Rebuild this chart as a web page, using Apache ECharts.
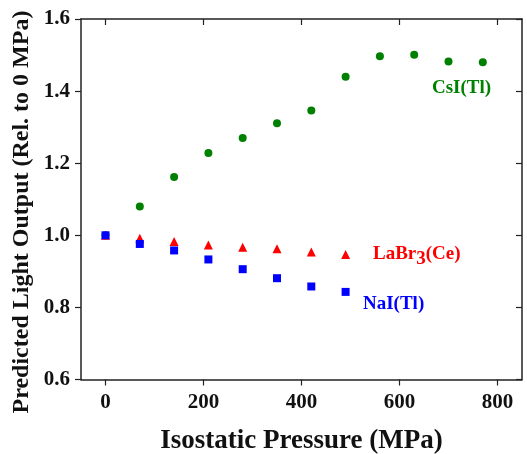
<!DOCTYPE html>
<html>
<head>
<meta charset="utf-8">
<script src="https://cdn.jsdelivr.net/npm/echarts@6/dist/echarts.min.js"></script>
<style>
html,body{margin:0;padding:0;background:#fff;}
#chart{width:527px;height:454px;}
</style>
</head>
<body>
<div id="chart"></div>
<script>
// Isostatic pressure (MPa)
const pressure = [0, 70, 140, 210, 280, 350, 420, 490, 560, 630, 700, 770];
// Predicted light output relative to 0 MPa
const csiTl = [1.0, 1.080, 1.162, 1.228, 1.270, 1.311, 1.346, 1.440, 1.497, 1.501, 1.482, 1.480];
const labr3Ce = [1.0, 0.992, 0.983, 0.973, 0.967, 0.963, 0.954, 0.947];
const naiTl = [1.0, 0.976, 0.958, 0.933, 0.906, 0.881, 0.858, 0.843];
const xTicks = [0, 200, 400, 600, 800];

const pairs = (ys) => ys.map((v, i) => [pressure[i], v]);
const font = '"Liberation Serif", "Times New Roman", serif';
const axisColor = '#222';

const chart = echarts.init(document.getElementById('chart'));
chart.setOption({
  animation: false,
  backgroundColor: '#fff',
  grid: { left: 81, right: 5, top: 19, bottom: 74.5, outerBoundsMode: 'none', containLabel: false },
  xAxis: [{
    type: 'value', min: -50, max: 850, interval: 50,
    axisLine: { onZero: false, lineStyle: { color: axisColor, width: 1.5 } },
    axisTick: { length: 6, lineStyle: { color: axisColor, width: 1.2 },
      customValues: xTicks },
    axisLabel: { margin: 13, fontFamily: font, fontWeight: 'bold', fontSize: 21, color: '#111',
      customValues: xTicks },
    splitLine: { show: false }
  }, {
    type: 'value', position: 'top', min: -50, max: 850,
    axisLine: { onZero: false, lineStyle: { color: axisColor, width: 1.5 } },
    axisTick: { inside: true, length: 6, lineStyle: { color: axisColor, width: 1.2 },
      customValues: xTicks },
    axisLabel: { show: false },
    splitLine: { show: false }
  }],
  yAxis: [{
    type: 'value', min: 0.6, max: 1.6, interval: 0.2,
    axisLine: { onZero: false, lineStyle: { color: axisColor, width: 1.5 } },
    axisTick: { length: 6, lineStyle: { color: axisColor, width: 1.2 } },
    axisLabel: { margin: 11, fontFamily: font, fontWeight: 'bold', fontSize: 21, color: '#111',
      formatter: (v) => v.toFixed(1) },
    splitLine: { show: false }
  }, {
    type: 'value', position: 'right', min: 0.6, max: 1.6, interval: 0.2,
    axisLine: { onZero: false, lineStyle: { color: axisColor, width: 1.5 } },
    axisTick: { inside: true, length: 6, lineStyle: { color: axisColor, width: 1.2 } },
    axisLabel: { show: false },
    splitLine: { show: false }
  }],
  series: [{
    name: 'CsI(Tl)', type: 'scatter', symbol: 'circle', symbolSize: 8,
    itemStyle: { color: '#008000', opacity: 1 }, data: pairs(csiTl), z: 2
  }, {
    name: 'LaBr3(Ce)', type: 'scatter', symbol: 'triangle', symbolSize: 9,
    itemStyle: { color: '#ff0000', opacity: 1 }, data: pairs(labr3Ce), z: 3
  }, {
    name: 'NaI(Tl)', type: 'scatter', symbol: 'rect', symbolSize: 8,
    itemStyle: { color: '#0000ff', opacity: 1 }, data: pairs(naiTl), z: 4
  }],
  graphic: [{
    type: 'text', x: 301.5, y: 441,
    style: { text: 'Isostatic Pressure (MPa)', font: 'bold 27px ' + font, fill: '#111',
      align: 'center', verticalAlign: 'middle' }
  }, {
    type: 'text', x: 22, y: 212, rotation: Math.PI / 2,
    style: { text: 'Predicted Light Output (Rel. to 0 MPa)', font: 'bold 24px ' + font, fill: '#111',
      align: 'center', verticalAlign: 'middle' }
  }, {
    type: 'text', x: 432, y: 88,
    style: { text: 'CsI(Tl)', font: 'bold 19px ' + font, fill: '#008000', verticalAlign: 'middle' }
  }, {
    type: 'text', x: 373, y: 254,
    style: {
      text: '{n|LaBr}{s|3}{n|(Ce)}', fill: '#ff0000', verticalAlign: 'middle',
      rich: {
        n: { font: 'bold 19px ' + font, fill: '#ff0000', lineHeight: 30, verticalAlign: 'middle' },
        s: { font: 'bold 19px ' + font, fill: '#ff0000', lineHeight: 19, verticalAlign: 'bottom' }
      }
    }
  }, {
    type: 'text', x: 363, y: 304,
    style: { text: 'NaI(Tl)', font: 'bold 19px ' + font, fill: '#0000ff', verticalAlign: 'middle' }
  }]
});
</script>
</body>
</html>
